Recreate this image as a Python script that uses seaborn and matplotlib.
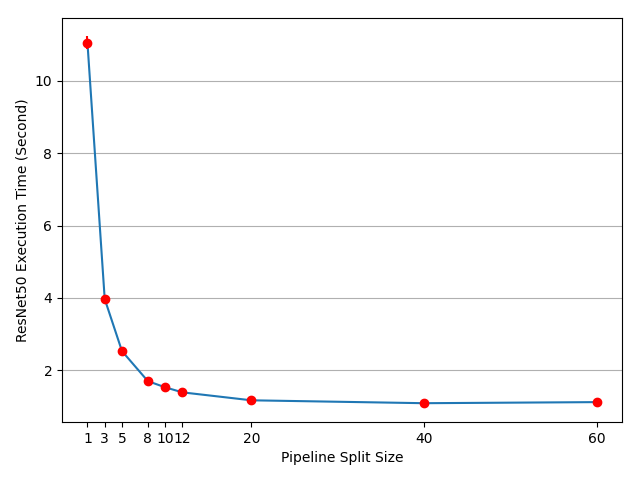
import matplotlib
matplotlib.use("Agg")
import matplotlib.pyplot as plt
import seaborn as sns
import pandas as pd

split_sizes = [1, 3, 5, 8, 10, 12, 20, 40, 60]
exec_times = [11.05, 3.97, 2.53, 1.70, 1.53, 1.39, 1.17, 1.09, 1.12]
exec_err = [0.18, 0.04, 0.04, 0.03, 0.03, 0.02, 0.02, 0.012, 0.02]

df = pd.DataFrame({"split": split_sizes, "time": exec_times, "err": exec_err})

plt.rcParams['font.family'] = ['DejaVu Sans']
fig, ax = plt.subplots(figsize=(6.4, 4.8), dpi=100)
sns.lineplot(data=df, x="split", y="time", ax=ax, color="C0", zorder=2)
ax.errorbar(df["split"], df["time"], yerr=df["err"], fmt="o", color="red", zorder=3)
ax.set_xticks(split_sizes)
ax.set_xticklabels([str(s) for s in split_sizes])
ax.grid(axis="y")
ax.set_xlabel("Pipeline Split Size")
ax.set_ylabel("ResNet50 Execution Time (Second)")
fig.subplots_adjust(left=62/640, right=622/640, top=1-18/480, bottom=1-422/480)
fig.savefig("out.png")
